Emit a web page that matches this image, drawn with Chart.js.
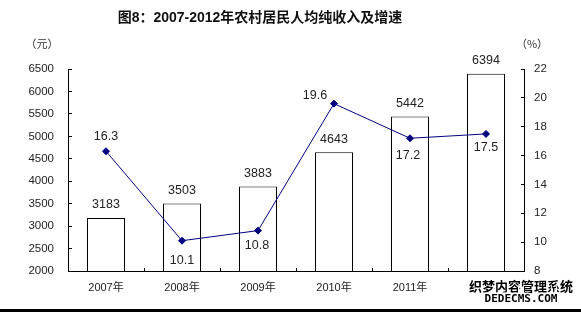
<!DOCTYPE html>
<html>
<head>
<meta charset="utf-8">
<script src="https://cdn.jsdelivr.net/npm/chart.js@4/dist/chart.umd.min.js"></script>
<style>
  html, body { margin: 0; padding: 0; background: #fff; }
  #wrap { position: relative; width: 581px; height: 312px; }
</style>
</head>
<body>
<div id="wrap"><canvas id="chart" width="581" height="312"></canvas></div>
<script>
"use strict";

// data
var years = ["2007年", "2008年", "2009年", "2010年", "2011年", "2012年"];
var income = [3183, 3503, 3883, 4643, 5442, 6394];
var growth = [16.3, 10.1, 10.8, 19.6, 17.2, 17.5];

var titleText = "图8：2007-2012年农村居民人均纯收入及增速";
var leftUnit = "（元）";
var rightUnit = "（%）";

var FONT = "'Liberation Sans', Arial, 'Noto Sans CJK SC', sans-serif";
var CJK = "'Liberation Sans', 'Noto Sans CJK SC', sans-serif";

// where each growth label sits relative to its point
var growthLabelOffset = [[0, -15], [0, 20], [-1, 15], [-19, -8], [-2, 17], [0, 14]];

var labelPlugin = {
    id: "labels",
    afterDatasetsDraw: function(chart) {
        var ctx = chart.ctx;
        ctx.save();
        ctx.textAlign = "center";
        ctx.textBaseline = "middle";
        ctx.font = "12.5px " + FONT;
        ctx.fillStyle = "#222";

        chart.getDatasetMeta(0).data.forEach(function(bar, i) {
            ctx.fillText(String(income[i]), bar.x, bar.y - 13);
        });
        chart.getDatasetMeta(1).data.forEach(function(pt, i) {
            var o = growthLabelOffset[i];
            ctx.fillText(growth[i].toFixed(1), pt.x + o[0], pt.y + o[1]);
        });
        ctx.restore();
    },
    afterDraw: function(chart) {
        var ctx = chart.ctx;
        ctx.save();
        ctx.fillStyle = "#111";
        ctx.textAlign = "center";
        ctx.textBaseline = "middle";
        ctx.font = "bold 14px " + CJK;
        ctx.fillText(titleText, 260, 18);

        ctx.font = "11px 'Noto Sans CJK SC', sans-serif";
        ctx.fillStyle = "#333";
        ctx.fillText(leftUnit, 42, 44);
        ctx.fillText(rightUnit, 532, 44);

        // watermark
        ctx.font = "bold 13px 'Noto Sans CJK SC', sans-serif";
        ctx.lineWidth = 3;
        ctx.strokeStyle = "#fff";
        ctx.strokeText("织梦内容管理系统", 521, 286);
        ctx.fillStyle = "#000";
        ctx.fillText("织梦内容管理系统", 521, 286);
        ctx.font = "bold 11px 'DejaVu Sans Mono', monospace";
        ctx.strokeText("DEDECMS.COM", 521, 299);
        ctx.fillText("DEDECMS.COM", 521, 299);

        ctx.fillStyle = "#000";
        ctx.fillRect(0, 309, 581, 3);
        ctx.restore();
    }
};

function plain(v) { return String(v); }

new Chart(document.getElementById("chart"), {
    data: {
        labels: years,
        datasets: [{
            type: "bar",
            data: income,
            yAxisID: "y",
            backgroundColor: "#fff",
            borderColor: "#000",
            borderWidth: 1,
            barPercentage: 0.5,
            categoryPercentage: 1,
            order: 2
        }, {
            type: "line",
            data: growth,
            yAxisID: "y1",
            borderColor: "#000080",
            borderWidth: 1,
            pointStyle: "rectRot",
            pointRadius: 3.5,
            pointBackgroundColor: "#000080",
            pointBorderColor: "#000080",
            tension: 0,
            order: 1
        }]
    },
    options: {
        responsive: false,
        animation: false,
        layout: { padding: { top: 69, left: 0, right: 0, bottom: 0 } },
        plugins: {
            legend: { display: false },
            title: { display: false },
            tooltip: { enabled: false }
        },
        scales: {
            x: {
                grid: { drawOnChartArea: false, offset: true, tickLength: -3, color: "#000" },
                border: { color: "#000", width: 1 },
                ticks: { color: "#222", font: { size: 11, family: CJK }, padding: 13, maxRotation: 0 },
                afterFit: function(s) { s.height = 312 - 271; }
            },
            y: {
                position: "left",
                min: 2000, max: 6500,
                grid: { drawOnChartArea: false, tickLength: -4, color: "#000" },
                border: { color: "#000", width: 1 },
                ticks: { stepSize: 500, color: "#222", font: { size: 11.5, family: FONT }, padding: 18, callback: plain },
                afterFit: function(s) { s.width = 68; }
            },
            y1: {
                position: "right",
                min: 8, max: 22,
                grid: { drawOnChartArea: false, tickLength: -3, color: "#000" },
                border: { color: "#000", width: 1 },
                ticks: { stepSize: 2, color: "#222", font: { size: 11.5, family: FONT }, padding: 13, callback: plain },
                afterFit: function(s) { s.width = 581 - 524; }
            }
        }
    },
    plugins: [labelPlugin]
});
</script>
</body>
</html>
